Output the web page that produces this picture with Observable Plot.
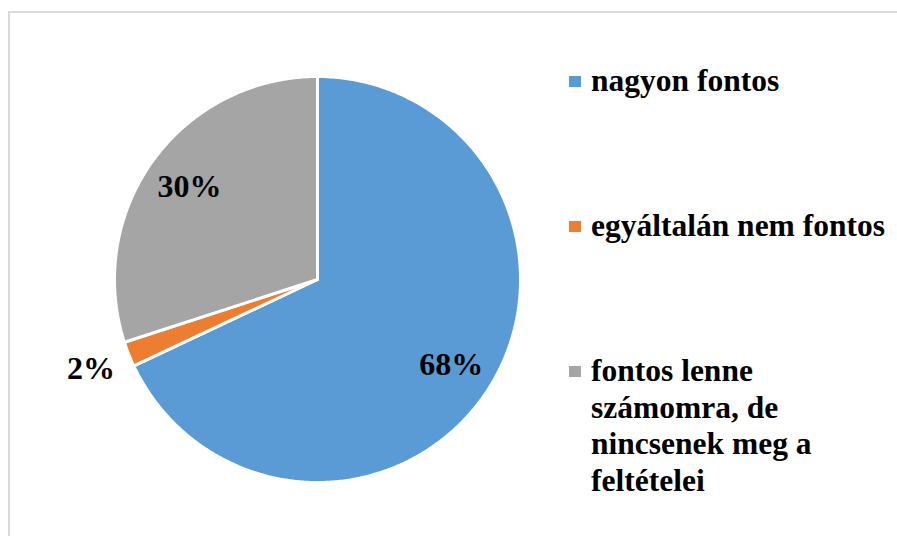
<!DOCTYPE html>
<html>
<head>
<meta charset="utf-8">
<script src="https://cdn.jsdelivr.net/npm/d3@7"></script>
<script src="https://cdn.jsdelivr.net/npm/@observablehq/plot@0.6"></script>
<style>
  html, body { margin: 0; padding: 0; background: #fff; overflow: hidden; }
  #wrap { position: relative; width: 897px; height: 536px; overflow: hidden; }
  #frame { position: absolute; left: 8px; top: 11px; width: 900px; height: 560px; border: 2px solid #d9d9d9; box-sizing: border-box; }
  #chart { position: absolute; left: 0; top: 0; }
  .leg { position: absolute; left: 591px; font-family: "Liberation Serif", "Times New Roman", serif; font-weight: bold; font-size: 31.5px; line-height: 36.5px; color: #000; white-space: nowrap; }
  .sw { position: absolute; left: 569px; width: 12px; height: 11px; }
</style>
</head>
<body>
<div id="wrap">
  <div id="frame"></div>
  <div id="chart"></div>
</div>
<script>
const categories = ["nagyon fontos", "egyáltalán nem fontos", "fontos lenne számomra, de nincsenek meg a feltételei"];
const legendLines = [["nagyon fontos"], ["egyáltalán nem fontos"], ["fontos lenne", "számomra, de", "nincsenek meg a", "feltételei"]];
const values = [68, 2, 30];
const labels = ["68%", "2%", "30%"];
const colors = ["#5b9bd5", "#ed7d31", "#a5a5a5"];

const arcs = d3.pie().sort(null).value(d => d)(values);
const pts = [];
const labelData = [];
arcs.forEach((a, i) => {
  const cat = categories[i];
  pts.push({cat, x: 0, y: 0});
  const n = Math.max(2, Math.ceil((a.endAngle - a.startAngle) / (Math.PI / 360)));
  for (let k = 0; k <= n; k++) {
    const t = a.startAngle + (a.endAngle - a.startAngle) * k / n;
    pts.push({cat, x: Math.sin(t), y: Math.cos(t)});
  }
  pts.push({cat, x: 0, y: 0});
  const mid = (a.startAngle + a.endAngle) / 2;
  const frac = values[i] / d3.sum(values);
  const r = frac < 0.05 ? 1.2 : 0.78;
  labelData.push({label: labels[i], x: r * Math.sin(mid), y: r * Math.cos(mid)});
});

const plot = Plot.plot({
  width: 897,
  height: 536,
  margin: 0,
  x: {domain: [-1, 1], range: [114, 520], axis: null},
  y: {domain: [-1, 1], range: [482, 76], axis: null},
  color: {domain: categories, range: colors},
  style: {background: "transparent", overflow: "visible"},
  marks: [
    Plot.line(pts, {x: "x", y: "y", z: "cat", fill: "cat", stroke: "white", strokeWidth: 3, strokeLinejoin: "miter"}),
    Plot.text(labelData, {x: "x", y: "y", text: "label", fontFamily: "Liberation Serif", fontWeight: "bold", fontSize: 32, fill: "black"})
  ]
});
document.getElementById("chart").appendChild(plot);

const wrap = document.getElementById("wrap");
const tops = [63.1, 208.1, 353.1];
legendLines.forEach((lines, i) => {
  const sw = document.createElement("div");
  sw.className = "sw";
  sw.style.top = (tops[i] + 12.9) + "px";
  sw.style.background = colors[i];
  wrap.appendChild(sw);
  const t = document.createElement("div");
  t.className = "leg";
  t.style.top = tops[i] + "px";
  lines.forEach((l, j) => {
    if (j) t.appendChild(document.createElement("br"));
    t.appendChild(document.createTextNode(l));
  });
  wrap.appendChild(t);
});
</script>
</body>
</html>
